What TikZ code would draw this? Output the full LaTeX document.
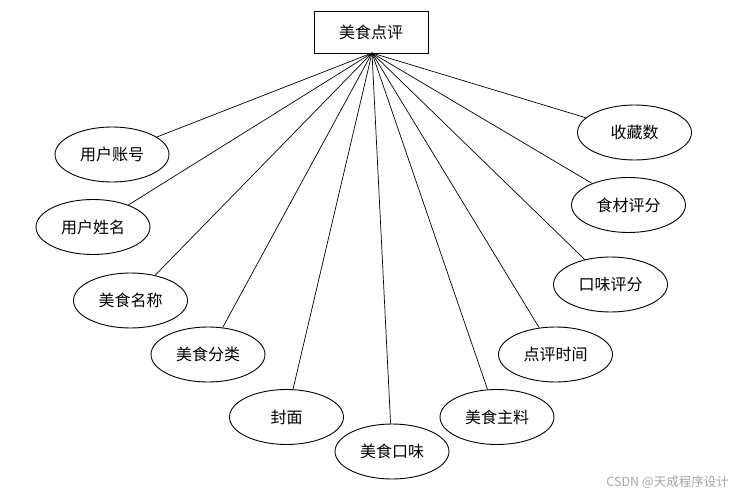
\documentclass[tikz,border=0pt]{standalone}
\usepackage{fontspec}
\setmainfont{Noto Sans CJK SC}
\usetikzlibrary{shapes.geometric}
\begin{document}
\begin{tikzpicture}[x=1pt,y=-1pt,
  attr/.style={ellipse,draw,line width=0.9pt,minimum width=114pt,minimum height=55pt,inner sep=0pt,font=\fontsize{16}{19}\selectfont},
  ent/.style={rectangle,draw,line width=0.9pt,minimum width=114pt,minimum height=42pt,inner sep=0pt,font=\fontsize{16}{19}\selectfont},
  link/.style={draw,line width=0.7pt}]
\useasboundingbox (0,0) rectangle (740,495);
\node[ent] (e) at (371,32) {美食点评};
\coordinate (hub) at (372,53);
\node[attr] (a1) at (112,154.5) {用户账号};
\node[attr] (a2) at (93,227) {用户姓名};
\node[attr] (a3) at (130.5,300.5) {美食名称};
\node[attr] (a4) at (208,354.5) {美食分类};
\node[attr] (a5) at (286.5,417) {封面};
\node[attr] (a6) at (392,451.5) {美食口味};
\node[attr] (a7) at (497,417) {美食主料};
\node[attr] (a8) at (555.5,354.5) {点评时间};
\node[attr] (a9) at (610.5,284.5) {口味评分};
\node[attr] (a10) at (628.5,205) {食材评分};
\node[attr] (a11) at (634.5,132.5) {收藏数};
\foreach \n in {a1,a2,a3,a4,a5,a6,a7,a8,a9,a10,a11}
  \draw[link] (hub) -- (\n);
\node[text=black!35,font=\fontsize{12.5}{15}\selectfont,anchor=east,inner sep=0pt] (wm) at (729,482) {CSDN @天成程序设计};
\end{tikzpicture}
\end{document}
